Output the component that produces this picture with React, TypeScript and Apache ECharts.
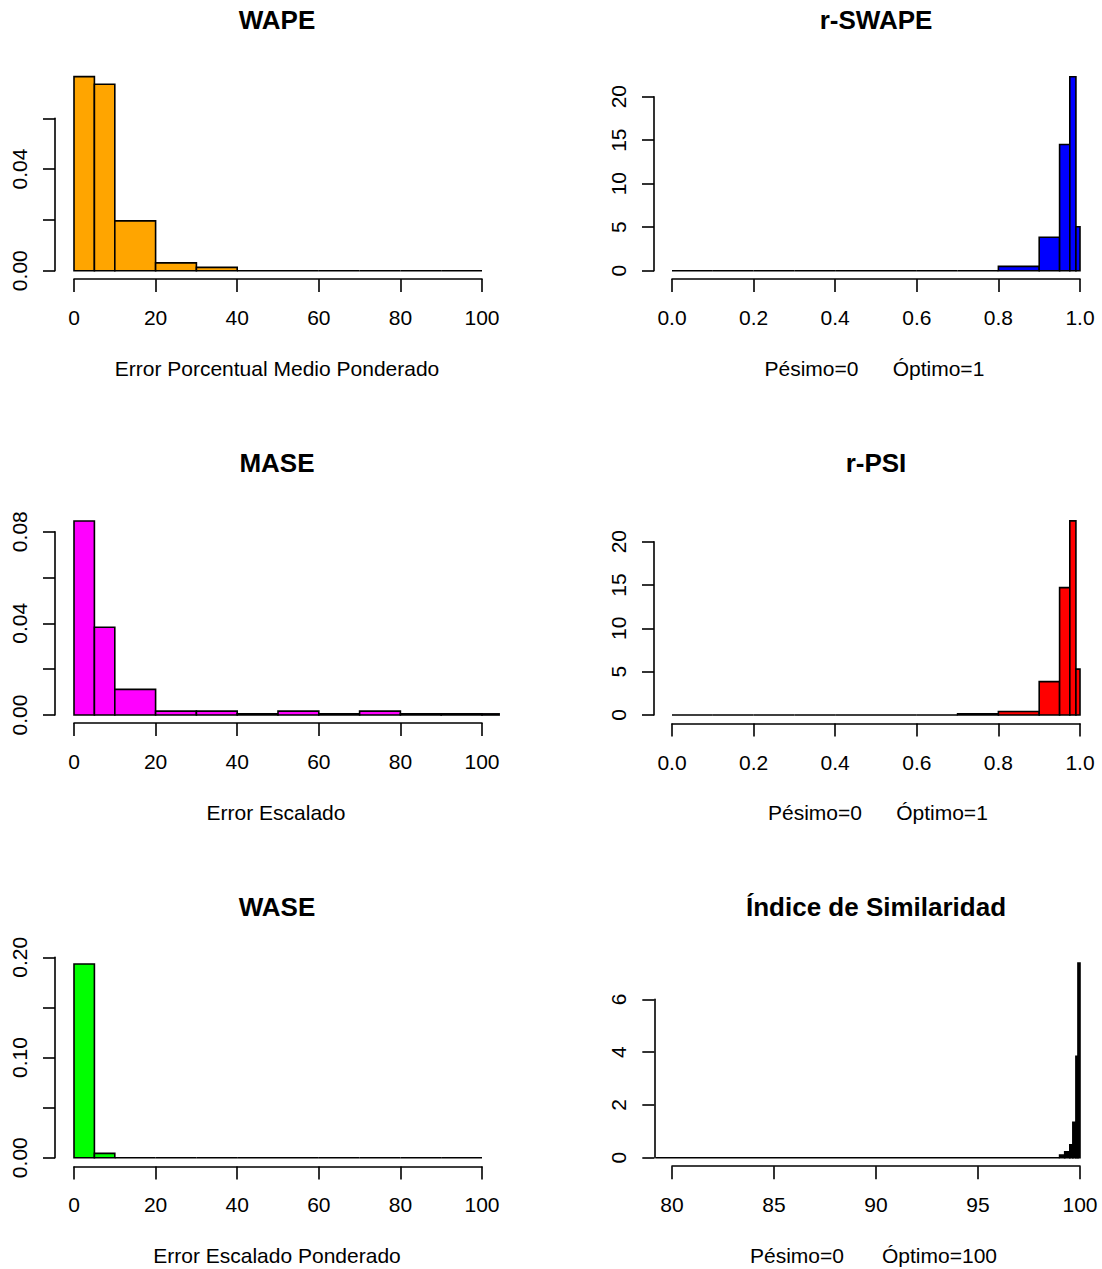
import React, { useEffect, useRef } from "react";
import * as echarts from "echarts";

// ---------------- DATA ----------------
const wapeBreaks = [0, 5, 10, 20, 30, 40, 50, 60, 70, 80, 90, 100];
const wapeDensity = [0.0764, 0.0734, 0.0196, 0.0031, 0.0013, 0, 0, 0, 0, 0, 0];
const wapeXTicks = [0, 20, 40, 60, 80, 100];
const wapeXLabels = ["0", "20", "40", "60", "80", "100"];
const wapeYTicks = [0, 0.02, 0.04, 0.06];
const wapeYLabels = ["0.00", "", "0.04", ""];

const rswapeBreaks = [0, 0.1, 0.2, 0.3, 0.4, 0.5, 0.6, 0.7, 0.8, 0.9, 0.95, 0.975, 0.99, 1.0];
const rswapeCounts = [0, 0, 0, 0, 0, 0, 0, 0, 0.5, 3.84, 14.5, 22.3, 5.06];
const unitXTicks = [0, 0.2, 0.4, 0.6, 0.8, 1.0];
const unitXLabels = ["0.0", "0.2", "0.4", "0.6", "0.8", "1.0"];
const rYTicks = [0, 5, 10, 15, 20];
const rYLabels = ["0", "5", "10", "15", "20"];

const maseBreaks = [0, 5, 10, 20, 30, 40, 50, 60, 70, 80, 90, 100, 104.2];
const maseDensity = [0.0847, 0.0383, 0.0112, 0.0017, 0.0017, 0.0005, 0.0017, 0.0005, 0.0017, 0.0005, 0.0005, 0.0005];
const maseYTicks = [0, 0.02, 0.04, 0.06, 0.08];
const maseYLabels = ["0.00", "", "0.04", "", "0.08"];

const rpsiBreaks = [0, 0.1, 0.2, 0.3, 0.4, 0.5, 0.6, 0.7, 0.8, 0.9, 0.95, 0.975, 0.99, 1.0];
const rpsiCounts = [0, 0, 0, 0, 0, 0, 0, 0.15, 0.4, 3.85, 14.7, 22.4, 5.3];

const waseBreaks = [0, 5, 10, 20, 30, 40, 50, 60, 70, 80, 90, 100];
const waseDensity = [0.1933, 0.0043, 0, 0, 0, 0, 0, 0, 0, 0, 0];
const waseYTicks = [0, 0.05, 0.1, 0.15, 0.2];
const waseYLabels = ["0.00", "", "0.10", "", "0.20"];

const simBreaks = [79.2, 99, 99.25, 99.5, 99.65, 99.8, 99.9, 100];
const simCounts = [0, 0.1, 0.22, 0.49, 1.34, 3.84, 7.37];
const simXTicks = [80, 85, 90, 95, 100];
const simXLabels = ["80", "85", "90", "95", "100"];
const simYTicks = [0, 2, 4, 6];
const simYLabels = ["0", "2", "4", "6"];

const titles = ["WAPE", "r-SWAPE", "MASE", "r-PSI", "WASE", "Índice de Similaridad"];

// ---------------- LAYOUT ----------------
const FONT = '"Liberation Sans", Arial, Helvetica, sans-serif';

type Panel = {
  breaks: number[];
  values: number[];
  color: string;
  xTicks: number[];
  xLabels: string[];
  yTicks: number[];
  yLabels: string[];
  left: number;
  top: number;
  width: number;
  height: number;
  xOffset: number;
  yOffset: number;
};

const panels: Panel[] = [
  { breaks: wapeBreaks, values: wapeDensity, color: "#FFA500", xTicks: wapeXTicks, xLabels: wapeXLabels, yTicks: wapeYTicks, yLabels: wapeYLabels, left: 74, top: 118.3, width: 408, height: 152.4, xOffset: 8.3, yOffset: 19 },
  { breaks: rswapeBreaks, values: rswapeCounts, color: "#0000FF", xTicks: unitXTicks, xLabels: unitXLabels, yTicks: rYTicks, yLabels: rYLabels, left: 672, top: 96.7, width: 408, height: 174, xOffset: 8.3, yOffset: 18 },
  { breaks: maseBreaks, values: maseDensity, color: "#FF00FF", xTicks: wapeXTicks, xLabels: wapeXLabels, yTicks: maseYTicks, yLabels: maseYLabels, left: 74, top: 531.7, width: 408, height: 183.3, xOffset: 8, yOffset: 19 },
  { breaks: rpsiBreaks, values: rpsiCounts, color: "#FF0000", xTicks: unitXTicks, xLabels: unitXLabels, yTicks: rYTicks, yLabels: rYLabels, left: 672, top: 541.7, width: 408, height: 173.3, xOffset: 8.5, yOffset: 18 },
  { breaks: waseBreaks, values: waseDensity, color: "#00FF00", xTicks: wapeXTicks, xLabels: wapeXLabels, yTicks: waseYTicks, yLabels: waseYLabels, left: 74, top: 957.3, width: 408, height: 200.4, xOffset: 8.7, yOffset: 19 },
  { breaks: simBreaks, values: simCounts, color: "#000000", xTicks: simXTicks, xLabels: simXLabels, yTicks: simYTicks, yLabels: simYLabels, left: 672, top: 999.3, width: 408, height: 158.4, xOffset: 8.5, yOffset: 17.7 },
];

const titlePos = [
  [277, 20], [876, 20], [277, 463], [876, 463], [277, 907], [876, 907],
];

const xlabs: { text: string; x: number; y: number }[] = [
  { text: "Error Porcentual Medio Ponderado", x: 277, y: 368 },
  { text: "Pésimo=0", x: 811.5, y: 368 },
  { text: "Óptimo=1", x: 938.5, y: 368 },
  { text: "Error Escalado", x: 276, y: 812 },
  { text: "Pésimo=0", x: 815, y: 812 },
  { text: "Óptimo=1", x: 942, y: 812 },
  { text: "Error Escalado Ponderado", x: 277, y: 1255 },
  { text: "Pésimo=0", x: 797, y: 1255 },
  { text: "Óptimo=100", x: 939.5, y: 1255 },
];

function labelFor(ticks: number[], labels: string[]) {
  const step = Math.abs(ticks[1] - ticks[0]);
  return (v: number) => {
    for (let i = 0; i < ticks.length; i++) {
      if (Math.abs(ticks[i] - v) < step * 1e-6) return labels[i];
    }
    return "";
  };
}

function buildOption() {
  const grid: any[] = [];
  const xAxis: any[] = [];
  const yAxis: any[] = [];
  const series: any[] = [];
  panels.forEach((p, i) => {
    grid.push({ left: p.left, top: p.top, width: p.width, height: p.height, containLabel: false, outerBoundsMode: "none" });
    xAxis.push({
      type: "value",
      gridIndex: i,
      position: "bottom",
      offset: p.xOffset,
      min: p.xTicks[0],
      max: p.xTicks[p.xTicks.length - 1],
      interval: p.xTicks[1] - p.xTicks[0],
      splitLine: { show: false },
      axisLine: { show: true, onZero: false, lineStyle: { color: "#000", width: 1.6 } },
      axisTick: { show: true, length: 13, lineStyle: { color: "#000", width: 1.6 } },
      axisLabel: { show: true, margin: 28, color: "#000", fontSize: 21, fontFamily: FONT, formatter: labelFor(p.xTicks, p.xLabels), showMinLabel: true, showMaxLabel: true },
    });
    yAxis.push({
      type: "value",
      gridIndex: i,
      position: "left",
      offset: p.yOffset,
      min: p.yTicks[0],
      max: p.yTicks[p.yTicks.length - 1],
      interval: p.yTicks[1] - p.yTicks[0],
      splitLine: { show: false },
      axisLine: { show: true, onZero: false, lineStyle: { color: "#000", width: 1.6 } },
      axisTick: { show: true, length: 12, lineStyle: { color: "#000", width: 1.6 } },
      axisLabel: { show: true, rotate: 90, margin: 25, color: "#000", fontSize: 21, fontFamily: FONT, formatter: labelFor(p.yTicks, p.yLabels), showMinLabel: true, showMaxLabel: true },
    });
    const data = p.values.map((v, k) => [p.breaks[k], p.breaks[k + 1], v]);
    const color = p.color;
    series.push({
      type: "custom",
      xAxisIndex: i,
      yAxisIndex: i,
      clip: false,
      silent: true,
      encode: { x: [0, 1], y: 2 },
      data,
      renderItem: (params: any, api: any) => {
        const x0 = api.value(0);
        const x1 = api.value(1);
        const h = api.value(2);
        const a = api.coord([x0, 0]);
        const b = api.coord([x1, h]);
        return {
          type: "polygon",
          shape: { points: [[a[0], a[1]], [a[0], b[1]], [b[0], b[1]], [b[0], a[1]]] },
          style: { fill: color, stroke: "#000", lineWidth: 1.6 },
        };
      },
    });
  });

  const graphic: any[] = [];
  titles.forEach((t, i) => {
    graphic.push({
      type: "text",
      x: titlePos[i][0],
      y: titlePos[i][1],
      style: { text: t, fill: "#000", font: `bold 26px ${FONT}`, align: "center", verticalAlign: "middle", textAlign: "center", textVerticalAlign: "middle" },
    });
  });
  xlabs.forEach((l) => {
    graphic.push({
      type: "text",
      x: l.x,
      y: l.y,
      style: { text: l.text, fill: "#000", font: `21px ${FONT}`, align: "center", verticalAlign: "middle", textAlign: "center", textVerticalAlign: "middle" },
    });
  });

  return {
    animation: false,
    backgroundColor: "#ffffff",
    grid,
    xAxis,
    yAxis,
    series,
    graphic,
  };
}

export default function App() {
  const ref = useRef<HTMLDivElement>(null);
  useEffect(() => {
    if (!ref.current) return;
    const chart = echarts.init(ref.current, null, { renderer: "svg" });
    chart.setOption(buildOption() as any);
    return () => chart.dispose();
  }, []);
  return (
    <div
      ref={ref}
      style={{ position: "absolute", left: 0, top: 0, width: 1102, height: 1269, background: "#fff" }}
    />
  );
}
